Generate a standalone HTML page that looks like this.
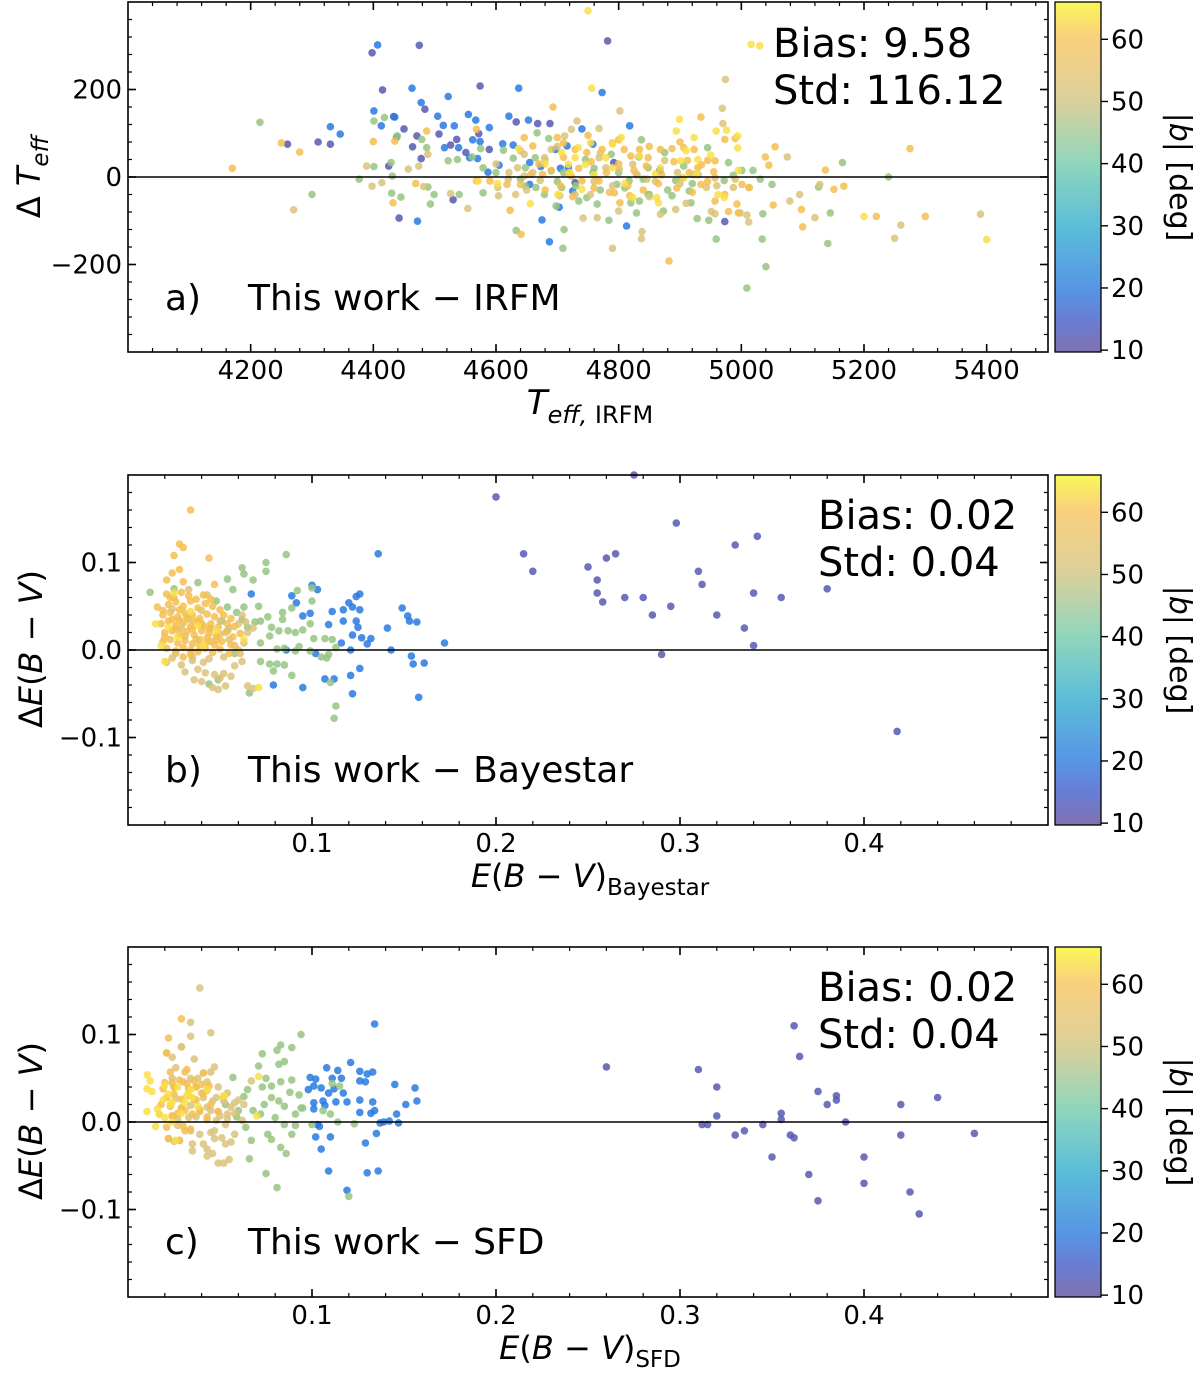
<!DOCTYPE html>
<html><head><meta charset="utf-8"><style>
html,body{margin:0;padding:0;background:#fff;}
svg{display:block;font-family:"DejaVu Sans","Liberation Sans",sans-serif;}
</style></head><body>
<svg id="fig" width="1200" height="1375" viewBox="0 0 1200 1375" xmlns="http://www.w3.org/2000/svg">
<defs>
<linearGradient id="cmap" x1="0" y1="1" x2="0" y2="0">
<stop offset="0" stop-color="#6a5aa2"/>
<stop offset="0.09" stop-color="#4f66cc"/>
<stop offset="0.18" stop-color="#3a82e0"/>
<stop offset="0.36" stop-color="#3fb2d2"/>
<stop offset="0.54" stop-color="#7ccfb0"/>
<stop offset="0.72" stop-color="#d6c88a"/>
<stop offset="0.9" stop-color="#f9c866"/>
<stop offset="1" stop-color="#f8f63a"/>
</linearGradient>
</defs>
<g id="root"></g>
</svg>
<script>
// ---------------- DATA ----------------
const latGroups = [12, 20, 45, 51, 57, 63];
// Panel a: Teff_IRFM, dTeff per latitude group
const aX12 = [4398,4475,4782,4415,4574,4433,4450,4471,4484,4464,4507,4526,4536,4572,4589,4478,4425,4551,4633,4668,4688,4792,4729,4530,4442,4973,4260,4310,4330];
const aY12 = [284,301,311,199,208,138,110,94,155,69,98,73,86,99,63,42,25,56,126,122,122,33,-13,-52,-94,-102,75,80,75];
const aX20 = [4407,4463,4522,4637,4773,4478,4401,4413,4435,4438,4505,4514,4532,4555,4567,4589,4621,4653,4740,4818,4516,4539,4557,4570,4562,4574,4611,4628,4697,4716,4758,4605,4587,4655,4673,4705,4718,4867,4655,4725,4703,4675,4813,4687,4472,4346,4330];
const aY20 = [302,203,184,203,193,170,151,117,137,91,139,118,117,143,130,113,139,130,110,117,67,67,44,42,85,81,76,73,63,71,75,27,11,33,24,20,21,15,-17,-32,-69,-98,-112,-148,-101,98,115];
const aX40 = [4418,4401,4429,4431,4377,4401,4487,4479,4439,4522,4537,4575,4561,4579,4612,4628,4667,4686,4648,4664,4690,4710,4746,4758,4788,4797,4817,4837,4833,4848,4875,4906,4923,4945,4979,5001,5019,5031,5050,5165,5126,5145,5141,5035,5034,5040,5009,4959,4928,4947,4918,4915,4887,4873,4848,4834,4820,4829,4784,4765,4748,4735,4707,4698,4711,4709,4633,4579,4540,4493,4499,4445,4430,4489,4648,4665,4679,4893,4904,4972,4987,4215,4300,5240,4700,4730,4770,4810,4850,4880,4920,4760,4800,4840,4640,4600];
const aY40 = [136,128,33,2,-5,24,67,86,94,37,40,65,46,21,61,43,101,88,21,44,14,10,40,10,52,-17,-9,85,46,21,56,25,6,67,33,15,15,-5,-17,33,-23,-82,-152,-84,-142,-205,-254,-142,-95,-99,-59,-32,-43,-78,-40,-55,-59,-82,-99,-62,-47,-55,-24,-66,-120,-163,-122,-36,-40,-62,-40,-46,-37,-23,-21,-24,-40,-8,-2,-8,4,125,-40,0,-10,-20,-30,-25,-40,-30,-15,20,10,-5,-5,10];
const aX50 = [4389,4398,4414,4457,4474,4489,4482,4526,4554,4604,4603,4632,4646,4660,4672,4704,4729,4754,4742,4765,4800,4790,4838,4837,4868,4893,4951,4957,4998,5012,5009,5120,5095,5079,5128,5075,4943,4957,4987,5012,4846,4829,4823,4801,4779,4768,4732,4768,4802,4974,4969,4970,4896,4875,4723,4712,4690,4679,4646,4635,4621,4270,5390,5250,5260,4600,4620,4650,4680,4720,4760,4790,4830,4860,4900,4930,4960,4990,4640,4700,4770,4850,4910];
const aY50 = [25,-21,-13,18,25,52,-22,-38,-72,-43,-24,-40,2,10,-8,-43,-40,-40,-94,-93,-78,-163,-125,-141,-85,-74,-79,-84,-82,-103,-87,-93,-40,-55,-17,46,-24,-2,-24,-24,-5,6,29,18,21,44,128,111,151,223,157,122,10,38,109,94,63,44,52,21,10,-75,-85,-140,-110,30,-5,-30,40,5,-10,-20,5,-10,-15,5,-20,-5,60,70,55,-45,-60];
const aX56 = [4400,4435,4487,4568,4693,4646,4660,4710,4729,4748,4773,4790,4809,4820,4834,4848,4868,4887,4906,4923,4934,4973,4990,5039,5055,5137,5151,5167,5098,5100,5052,4993,4979,4995,4957,4934,4929,4912,4945,4882,4802,4818,4793,4768,4740,4723,4676,4657,4640,4618,4590,4568,4469,4432,4623,4641,4973,5001,5013,5045,4957,4170,4250,4280,5220,5275,5300,4670,4690,4710,4735,4755,4780,4800,4825,4845,4870,4890,4915,4935,4955,4680,4705,4725,4760,4785,4815,4840,4865,4895,4920,4945,4700,4750,4800,4850,4900];
const aY56 = [81,82,105,109,160,90,71,78,63,56,63,78,63,48,63,44,63,65,67,63,137,86,88,46,69,16,-28,-21,-74,-114,-64,-62,-79,-82,-55,-17,21,38,38,-192,-59,-43,-36,-9,-9,2,6,6,-17,-17,-9,-9,-15,-59,-76,-131,-40,-17,-24,27,37,20,78,57,-90,65,-90,30,15,45,20,35,10,30,15,25,5,35,10,28,12,-30,-20,-45,-25,-35,-20,-30,-15,-25,-35,-10,90,95,85,70,80];
const aX63 = [5016,4756,4899,4894,4959,4976,4994,4994,4804,4754,4734,4707,4729,4746,4779,4834,4868,4865,4862,4901,4926,4962,4972,4995,4656,4637,4602,4571,4701,4740,4718,4790,4823,4929,4923,4906,4750,5030,5400,5200,4760,4810,4860,4910,4950,4680,4720,4790];
const aY63 = [303,203,132,105,105,107,66,94,90,78,67,56,44,29,44,48,21,-59,-47,37,6,-40,-47,15,-61,65,-15,-9,-40,-28,29,21,-47,40,90,-2,380,300,-143,-90,5,-15,8,60,50,30,10,75];

// Panel b: E(B-V)_Bayestar, dE(B-V)
const bX12 = [0.200,0.215,0.220,0.250,0.255,0.260,0.265,0.270,0.275,0.280,0.285,0.290,0.295,0.298,0.310,0.312,0.320,0.330,0.335,0.340,0.342,0.340,0.355,0.380,0.418,0.255,0.258];
const bY12 = [0.175,0.110,0.090,0.095,0.065,0.105,0.110,0.060,0.200,0.060,0.040,-0.005,0.050,0.145,0.090,0.075,0.040,0.120,0.025,0.005,0.130,0.065,0.060,0.070,-0.093,0.080,0.055];
const bX20 = [0.067,0.089,0.0915,0.100,0.103,0.095,0.099,0.109,0.111,0.120,0.124,0.126,0.122,0.126,0.117,0.117,0.124,0.125,0.122,0.127,0.132,0.130,0.116,0.121,0.143,0.136,0.149,0.152,0.153,0.157,0.141,0.172,0.154,0.155,0.161,0.158,0.126,0.121,0.122,0.107,0.112,0.095,0.079,0.102,0.086];
const bY20 = [0.064,0.062,0.054,0.074,0.069,0.039,0.042,0.029,0.044,0.054,0.061,0.064,0.049,0.046,0.046,0.033,0.033,0.026,0.017,0.014,0.013,0.007,0.008,0.000,0.000,0.110,0.048,0.039,0.033,0.032,0.025,0.008,-0.007,-0.016,-0.015,-0.054,-0.021,-0.029,-0.050,-0.033,-0.033,-0.043,-0.040,-0.004,0.000];
const bX40 = [0.086,0.075,0.075,0.062,0.063,0.054,0.068,0.057,0.092,0.100,0.100,0.089,0.071,0.059,0.063,0.084,0.084,0.076,0.072,0.069,0.062,0.065,0.078,0.082,0.087,0.091,0.095,0.099,0.101,0.107,0.111,0.113,0.072,0.077,0.081,0.085,0.091,0.093,0.099,0.105,0.108,0.109,0.072,0.077,0.081,0.079,0.085,0.089,0.110,0.113,0.112,0.066,0.044,0.049,0.058,0.054,0.051,0.048,0.054,0.038,0.025,0.012];
const bY40 = [0.109,0.100,0.090,0.094,0.087,0.081,0.080,0.069,0.068,0.071,0.056,0.048,0.050,0.043,0.049,0.043,0.035,0.038,0.033,0.032,0.035,0.026,0.026,0.022,0.022,0.020,0.023,0.030,0.013,0.013,0.012,0.003,0.008,0.016,0.001,0.002,-0.001,0.004,-0.001,-0.008,-0.009,-0.005,-0.013,-0.016,-0.016,-0.024,-0.017,-0.029,-0.037,-0.064,-0.078,-0.049,-0.039,-0.034,-0.004,0.022,0.033,0.056,0.049,0.077,0.070,0.066];
const bX50 = [0.024,0.033,0.040,0.045,0.050,0.037,0.029,0.055,0.060,0.063,0.065,0.035,0.044,0.052,0.058,0.062,0.068,0.021,0.026,0.031,0.036,0.040,0.046,0.049,0.053,0.065,0.068,0.047,0.052,0.062,0.041,0.035,0.029,0.024,0.043,0.033,0.045,0.050,0.055,0.058,0.061,0.064,0.038,0.042,0.050,0.056];
const bY50 = [0.047,0.035,0.045,0.025,0.033,0.012,0.025,0.012,0.030,0.008,0.020,-0.008,-0.010,-0.008,-0.018,0.040,0.025,-0.014,-0.004,-0.025,-0.034,-0.036,-0.043,-0.045,-0.041,-0.041,-0.044,-0.028,-0.027,-0.013,-0.014,-0.012,-0.017,-0.009,0.063,0.069,0.010,0.018,0.025,0.005,-0.004,0.032,-0.022,-0.026,-0.032,-0.030];
const bX56 = [0.034,0.028,0.030,0.025,0.044,0.028,0.024,0.021,0.030,0.047,0.023,0.016,0.019,0.022,0.026,0.030,0.034,0.038,0.042,0.046,0.050,0.028,0.019,0.023,0.027,0.031,0.035,0.039,0.043,0.047,0.052,0.056,0.018,0.022,0.026,0.030,0.034,0.038,0.041,0.045,0.049,0.054,0.058,0.020,0.024,0.028,0.032,0.036,0.040,0.044,0.048,0.053,0.057,0.061,0.019,0.023,0.027,0.031,0.035,0.039,0.043,0.047,0.051,0.056,0.021,0.026,0.030,0.034,0.038,0.042,0.046,0.050,0.055,0.060,0.021,0.025,0.029,0.033,0.037,0.041,0.045,0.024,0.028,0.032,0.036,0.040,0.044,0.020,0.026,0.031,0.035,0.039,0.043,0.048,0.030,0.034];
const bY56 = [0.160,0.121,0.117,0.108,0.105,0.092,0.088,0.080,0.078,0.075,0.060,0.049,0.045,0.052,0.055,0.050,0.056,0.048,0.053,0.050,0.046,0.046,0.040,0.043,0.038,0.042,0.040,0.036,0.041,0.038,0.040,0.036,0.030,0.033,0.028,0.031,0.027,0.032,0.028,0.030,0.026,0.030,0.027,0.020,0.022,0.018,0.021,0.017,0.022,0.019,0.016,0.020,0.015,0.019,0.010,0.012,0.008,0.011,0.007,0.012,0.009,0.006,0.010,0.006,0.002,-0.001,0.003,0.000,-0.002,0.002,-0.003,0.001,-0.004,0.000,0.064,0.060,0.066,0.062,0.058,0.063,0.058,0.035,0.034,0.037,0.033,0.030,0.024,0.015,0.024,0.016,0.024,0.005,0.014,0.012,-0.008,-0.005];
const bX63 = [0.020,0.018,0.022,0.027,0.034,0.041,0.071,0.048,0.063,0.015,0.025,0.038];
const bY63 = [-0.013,0.005,0.026,0.015,0.044,0.005,-0.043,0.022,0.012,0.030,0.065,0.028];

// Panel c: E(B-V)_SFD, dE(B-V)
const cX12 = [0.260,0.310,0.312,0.315,0.320,0.320,0.330,0.335,0.345,0.350,0.355,0.360,0.362,0.365,0.362,0.370,0.375,0.375,0.380,0.385,0.390,0.400,0.400,0.420,0.420,0.425,0.430,0.440,0.460,0.385,0.355];
const cY12 = [0.063,0.060,-0.003,-0.003,0.040,0.007,-0.015,-0.010,-0.003,-0.040,0.010,-0.015,0.110,0.075,-0.018,-0.060,-0.090,0.035,0.020,0.030,0.000,-0.040,-0.070,0.020,-0.015,-0.080,-0.105,0.028,-0.013,0.025,0.003];
const cX20 = [0.134,0.121,0.108,0.114,0.126,0.130,0.133,0.099,0.102,0.111,0.116,0.126,0.129,0.145,0.156,0.098,0.101,0.105,0.109,0.112,0.117,0.106,0.113,0.119,0.126,0.133,0.157,0.151,0.101,0.101,0.107,0.126,0.134,0.132,0.146,0.137,0.139,0.142,0.147,0.103,0.104,0.102,0.110,0.105,0.135,0.129,0.109,0.130,0.136,0.119];
const cY20 = [0.112,0.068,0.062,0.059,0.058,0.055,0.057,0.051,0.049,0.050,0.050,0.047,0.046,0.043,0.039,0.037,0.041,0.039,0.033,0.038,0.033,0.024,0.023,0.023,0.025,0.023,0.024,0.020,0.022,0.015,0.019,0.011,0.013,0.010,0.009,-0.001,0.000,0.001,-0.001,-0.003,-0.005,-0.017,-0.017,-0.031,-0.013,-0.024,-0.056,-0.058,-0.056,-0.078];
const cX40 = [0.094,0.083,0.081,0.089,0.085,0.082,0.073,0.071,0.075,0.083,0.089,0.078,0.073,0.093,0.088,0.078,0.082,0.085,0.091,0.095,0.074,0.072,0.080,0.085,0.091,0.100,0.114,0.123,0.076,0.078,0.083,0.086,0.089,0.075,0.081,0.120,0.111,0.115,0.106,0.110,0.094,0.057,0.063,0.065,0.060,0.068,0.064,0.067,0.066,0.059,0.053];
const cY40 = [0.100,0.088,0.082,0.085,0.069,0.066,0.078,0.064,0.050,0.046,0.048,0.041,0.040,0.031,0.034,0.028,0.024,0.018,0.009,0.016,0.020,0.009,0.005,-0.003,-0.004,-0.003,0.000,-0.002,-0.014,-0.020,-0.029,-0.036,-0.014,-0.059,-0.075,-0.085,0.044,0.041,0.013,0.009,0.016,0.051,0.029,0.037,0.013,0.013,-0.006,-0.021,-0.042,0.006,0.020];
const cX50 = [0.039,0.029,0.034,0.034,0.045,0.029,0.021,0.024,0.036,0.026,0.047,0.041,0.045,0.024,0.030,0.034,0.038,0.043,0.025,0.033,0.037,0.043,0.049,0.054,0.026,0.036,0.041,0.046,0.052,0.058,0.029,0.034,0.039,0.043,0.049,0.054,0.024,0.027,0.033,0.037,0.043,0.048,0.053,0.027,0.034,0.039,0.045,0.051,0.056,0.022,0.028,0.035,0.041,0.047,0.053,0.043,0.046,0.043,0.049,0.052,0.055,0.035,0.025,0.058,0.063,0.067,0.048,0.052,0.056,0.060,0.045,0.050,0.054,0.058,0.062,0.047];
const cY50 = [0.153,0.086,0.114,0.098,0.102,0.086,0.079,0.074,0.072,0.062,0.063,0.056,0.057,0.050,0.046,0.050,0.050,0.046,0.040,0.038,0.040,0.036,0.040,0.033,0.027,0.026,0.028,0.024,0.029,0.022,0.016,0.019,0.014,0.017,0.012,0.009,0.007,0.003,0.005,0.006,0.003,0.002,-0.003,-0.004,-0.010,-0.014,-0.012,-0.018,-0.023,-0.019,-0.021,-0.025,-0.025,-0.019,-0.025,-0.031,-0.036,-0.039,-0.047,-0.047,-0.043,-0.033,-0.022,-0.014,0.020,0.047,0.028,0.024,0.017,0.025,0.013,0.007,0.004,0.010,0.002,-0.010];
const cX56 = [0.029,0.022,0.021,0.023,0.031,0.041,0.020,0.019,0.025,0.033,0.037,0.023,0.052,0.018,0.029,0.032,0.040,0.049,0.022,0.028,0.031,0.021,0.017,0.024,0.021,0.025,0.029,0.033,0.037,0.041,0.045,0.024,0.028,0.032,0.036,0.040,0.044,0.027,0.031,0.035,0.039,0.043,0.030,0.034];
const cY56 = [0.118,0.096,0.079,0.057,0.057,0.056,0.045,0.038,0.040,0.038,0.040,0.018,0.029,0.020,0.016,0.060,0.033,0.012,-0.019,-0.021,-0.010,-0.006,0.009,0.007,0.028,0.032,0.026,0.030,0.025,0.033,0.020,0.045,0.048,0.044,0.047,0.043,0.041,0.010,0.013,0.009,0.012,0.006,-0.005,-0.008];
const cX63 = [0.0105,0.012,0.0103,0.013,0.0103,0.015,0.017,0.020,0.022,0.024,0.032,0.034,0.029,0.020,0.024,0.043,0.052,0.071,0.070,0.026,0.016,0.019,0.023,0.027,0.031,0.035,0.038];
const cY63 = [0.054,0.047,0.038,0.035,0.012,-0.005,0.009,0.042,0.032,0.023,0.031,0.037,0.010,0.005,0.000,0.037,0.030,0.052,0.007,-0.021,0.015,0.025,0.020,0.040,0.022,0.028,0.018];

const aTicksX = [4200,4400,4600,4800,5000,5200,5400];
const aTicksY = [-200,0,200];
const bcTicksX = [0.1,0.2,0.3,0.4];
const bcTicksY = [-0.1,0.0,0.1];
const cbTicks = [10,20,30,40,50,60];
const biasA = "9.58", stdA = "116.12", biasB = "0.02", stdB = "0.04", biasC = "0.02", stdC = "0.04";

// ---------------- DRAW ----------------
const NS = "http://www.w3.org/2000/svg";
const root = document.getElementById('root');
function el(tag, attrs, parent){
  const e = document.createElementNS(NS, tag);
  for (const k in attrs) e.setAttribute(k, attrs[k]);
  (parent||root).appendChild(e);
  return e;
}
const cstops = [[9.7,[100,84,160]],[15,[70,96,204]],[20,[40,122,226]],[30,[63,178,210]],[40,[124,200,150]],[45,[150,196,128]],[50,[214,196,130]],[57,[244,190,80]],[60,[249,200,80]],[66,[248,246,58]]];
function cmap(v){
  for (let i=0;i<cstops.length-1;i++){
    const a=cstops[i], b=cstops[i+1];
    if (v<=b[0]){ const t=Math.max(0,(v-a[0])/(b[0]-a[0]));
      return 'rgb('+a[1].map((c,j)=>Math.round(c+(b[1][j]-c)*t)).join(',')+')'; }
  }
  return 'rgb(248,246,58)';
}
const L=128, R=1048;
function panel(top, xr, yr, xt, yt, xminor, yminor, groups, fmtX, fmtY, key){
  const bot = top+350;
  const sx = v => L + (v-xr[0])/(xr[1]-xr[0])*(R-L);
  const sy = v => bot - (v-yr[0])/(yr[1]-yr[0])*350;
  const g = el('g', {});
  
  
  const pts = el('g', {}, g);
  
  
  groups.forEach(([xs, ys, lat]) => {
    for (let i=0;i<xs.length;i++){
      const c = el('circle', {cx: sx(xs[i]).toFixed(1), cy: sy(ys[i]).toFixed(1), r: 3.8, fill: cmap(lat), 'fill-opacity': 0.85}, pts);
      
      
    }
  });
  const zl = el('line', {x1:L, x2:R, y1:sy(0), y2:sy(0), stroke:'#000', 'stroke-width':1.6}, g);
  
  
  for (let v = xminor[0]; v <= xr[1]+1e-9; v += xminor[1]){
    const x = sx(v); if (x<=L+1||x>=R-1) continue;
    el('line',{x1:x,x2:x,y1:bot,y2:bot-4,stroke:'#000','stroke-width':1.2},g);
    el('line',{x1:x,x2:x,y1:top,y2:top+4,stroke:'#000','stroke-width':1.2},g);
  }
  for (let v = yminor[0]; v <= yr[1]+1e-9; v += yminor[1]){
    const y = sy(v); if (y<=top+1||y>=bot-1) continue;
    el('line',{x1:L,x2:L+4,y1:y,y2:y,stroke:'#000','stroke-width':1.2},g);
    el('line',{x1:R,x2:R-4,y1:y,y2:y,stroke:'#000','stroke-width':1.2},g);
  }
  xt.forEach(v => {
    const x = sx(v);
    el('line',{x1:x,x2:x,y1:bot,y2:bot-8,stroke:'#000','stroke-width':1.6},g);
    el('line',{x1:x,x2:x,y1:top,y2:top+8,stroke:'#000','stroke-width':1.6},g);
    const t = el('text',{x:x,y:bot+27,'font-size':26,'text-anchor':'middle'},g);
    t.textContent = fmtX(v);
    
    
  });
  yt.forEach(v => {
    const y = sy(v);
    el('line',{x1:L,x2:L+8,y1:y,y2:y,stroke:'#000','stroke-width':1.6},g);
    el('line',{x1:R,x2:R-8,y1:y,y2:y,stroke:'#000','stroke-width':1.6},g);
    const t = el('text',{x:L-6,y:y+9,'font-size':26,'text-anchor':'end'},g);
    t.textContent = fmtY(v);
    
    
  });
  const fr = el('rect',{x:L,y:top,width:R-L,height:350,fill:'none',stroke:'#000','stroke-width':1.6},g);
  
  
  const cbg = el('g',{},g);
  
  
  const cL=1055, cR=1101;
  el('rect',{x:cL,y:top,width:cR-cL,height:350,fill:'url(#cmap)','fill-opacity':0.85,stroke:'#000','stroke-width':1.3},cbg);
  const cy = v => bot - (v-9.7)/(66-9.7)*350;
  cbTicks.forEach(v => {
    const y = cy(v);
    el('line',{x1:cR,x2:cR+7,y1:y,y2:y,stroke:'#000','stroke-width':1.4},cbg);
    const t = el('text',{x:cR+10,y:y+9,'font-size':26},cbg);
    t.textContent = v;
    
    
  });
  const cl = el('text',{x:0,y:0,'font-size':30,'text-anchor':'middle',transform:'translate(1170,'+(top+175)+') rotate(90)'},cbg);
  cl.innerHTML = '|<tspan font-style="italic">b</tspan>| [deg]';
  
  
  return {g, top, bot};
}
const fmtInt = v => (v<0?'\u2212':'')+Math.abs(v);
const fmt1 = v => v.toFixed(1);
const fmtY1 = v => (v<0?'\u2212':'')+Math.abs(v).toFixed(1);

const pa = panel(2, [4000,5500], [-400,400], aTicksX, aTicksY, [4000,40], [-400,40],
  [[aX12,aY12,latGroups[0]],[aX20,aY20,latGroups[1]],[aX40,aY40,latGroups[2]],[aX50,aY50,latGroups[3]],[aX56,aY56,latGroups[4]],[aX63,aY63,latGroups[5]]], String, fmtInt, 'a');
const pb = panel(475, [0,0.5], [-0.2,0.2], bcTicksX, bcTicksY, [0,0.02], [-0.2,0.02],
  [[bX12,bY12,latGroups[0]],[bX20,bY20,latGroups[1]],[bX40,bY40,latGroups[2]],[bX50,bY50,latGroups[3]],[bX56,bY56,latGroups[4]],[bX63,bY63,latGroups[5]]], fmt1, fmtY1, 'b');
const pc = panel(947, [0,0.5], [-0.2,0.2], bcTicksX, bcTicksY, [0,0.02], [-0.2,0.02],
  [[cX12,cY12,latGroups[0]],[cX20,cY20,latGroups[1]],[cX40,cY40,latGroups[2]],[cX50,cY50,latGroups[3]],[cX56,cY56,latGroups[4]],[cX63,cY63,latGroups[5]]], fmt1, fmtY1, 'c');

function txt(x,y,size,html,name,extra){
  const t = el('text', Object.assign({x:x,y:y,'font-size':size}, extra||{}));
  t.innerHTML = html;
  
  
  return t;
}
txt(773,57,40,'Bias: '+biasA,'bias-annotation-a');
txt(773,104,40,'Std: '+stdA,'std-annotation-a');
txt(818,529,40,'Bias: '+biasB,'bias-annotation-b');
txt(818,576,40,'Std: '+stdB,'std-annotation-b');
txt(818,1001,40,'Bias: '+biasC,'bias-annotation-c');
txt(818,1048,40,'Std: '+stdC,'std-annotation-c');
txt(165,310,36,'a)','panel-label-a');
txt(248,310,36,'This work \u2212 IRFM','panel-title-a');
txt(165,782,36,'b)','panel-label-b');
txt(248,782,36,'This work \u2212 Bayestar','panel-title-b');
txt(165,1254,36,'c)','panel-label-c');
txt(248,1254,36,'This work \u2212 SFD','panel-title-c');
txt(590,414,34,'<tspan font-style="italic">T</tspan><tspan font-size="24" dy="9" font-style="italic">eff,</tspan><tspan font-size="24"> IRFM</tspan>','x-axis-title-a',{'text-anchor':'middle'});
txt(590,887,32,'<tspan font-style="italic">E</tspan>(<tspan font-style="italic">B</tspan> \u2212 <tspan font-style="italic">V</tspan>)<tspan font-size="23" dy="8">Bayestar</tspan>','x-axis-title-b',{'text-anchor':'middle'});
txt(590,1359,32,'<tspan font-style="italic">E</tspan>(<tspan font-style="italic">B</tspan> \u2212 <tspan font-style="italic">V</tspan>)<tspan font-size="23" dy="8">SFD</tspan>','x-axis-title-c',{'text-anchor':'middle'});
txt(0,0,32,'\u0394 <tspan font-style="italic">T</tspan><tspan font-size="23" dy="8" font-style="italic">eff</tspan>','y-axis-title-a',{'text-anchor':'middle',transform:'translate(40,177) rotate(-90)'});
txt(0,0,32,'\u0394<tspan font-style="italic">E</tspan>(<tspan font-style="italic">B</tspan> \u2212 <tspan font-style="italic">V</tspan>)','y-axis-title-b',{'text-anchor':'middle',transform:'translate(42,649) rotate(-90)'});
txt(0,0,32,'\u0394<tspan font-style="italic">E</tspan>(<tspan font-style="italic">B</tspan> \u2212 <tspan font-style="italic">V</tspan>)','y-axis-title-c',{'text-anchor':'middle',transform:'translate(42,1121) rotate(-90)'});
</script>
</body></html>
